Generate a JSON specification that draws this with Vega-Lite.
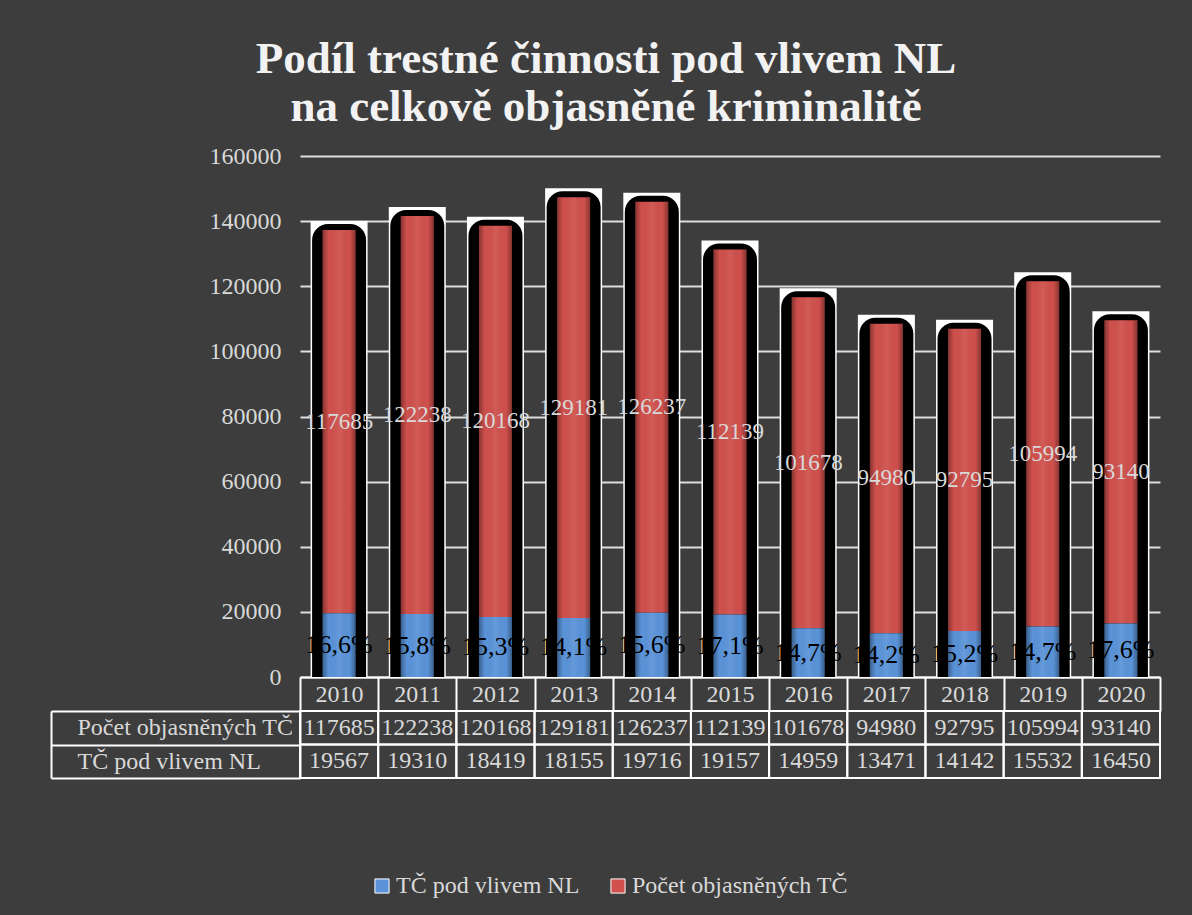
{
  "$schema": "https://vega.github.io/schema/vega-lite/v6.json",
  "autosize": {"type": "none"},
  "padding": {"left": 300, "top": 156, "right": 32, "bottom": 137},
  "background": "#3d3d3d",
  "width": 860,
  "height": 622,
  "title": {
    "text": ["Podíl trestné činnosti pod vlivem NL", "na celkově objasněné kriminalitě"],
    "font": "Liberation Serif",
    "fontSize": 45,
    "fontWeight": "bold",
    "color": "#f2f2f2",
    "lineHeight": 48,
    "anchor": "middle",
    "frame": "group",
    "dx": -124,
    "offset": 14
  },
  "data": {
    "values": [
      {"year": "2010", "series": "Počet objasněných TČ", "value": 117685, "label": "117685"},
      {"year": "2011", "series": "Počet objasněných TČ", "value": 122238, "label": "122238"},
      {"year": "2012", "series": "Počet objasněných TČ", "value": 120168, "label": "120168"},
      {"year": "2013", "series": "Počet objasněných TČ", "value": 129181, "label": "129181"},
      {"year": "2014", "series": "Počet objasněných TČ", "value": 126237, "label": "126237"},
      {"year": "2015", "series": "Počet objasněných TČ", "value": 112139, "label": "112139"},
      {"year": "2016", "series": "Počet objasněných TČ", "value": 101678, "label": "101678"},
      {"year": "2017", "series": "Počet objasněných TČ", "value": 94980, "label": "94980"},
      {"year": "2018", "series": "Počet objasněných TČ", "value": 92795, "label": "92795"},
      {"year": "2019", "series": "Počet objasněných TČ", "value": 105994, "label": "105994"},
      {"year": "2020", "series": "Počet objasněných TČ", "value": 93140, "label": "93140"},
      {"year": "2010", "series": "TČ pod vlivem NL", "value": 19567, "label": "16,6%"},
      {"year": "2011", "series": "TČ pod vlivem NL", "value": 19310, "label": "15,8%"},
      {"year": "2012", "series": "TČ pod vlivem NL", "value": 18419, "label": "15,3%"},
      {"year": "2013", "series": "TČ pod vlivem NL", "value": 18155, "label": "14,1%"},
      {"year": "2014", "series": "TČ pod vlivem NL", "value": 19716, "label": "15,6%"},
      {"year": "2015", "series": "TČ pod vlivem NL", "value": 19157, "label": "17,1%"},
      {"year": "2016", "series": "TČ pod vlivem NL", "value": 14959, "label": "14,7%"},
      {"year": "2017", "series": "TČ pod vlivem NL", "value": 13471, "label": "14,2%"},
      {"year": "2018", "series": "TČ pod vlivem NL", "value": 14142, "label": "15,2%"},
      {"year": "2019", "series": "TČ pod vlivem NL", "value": 15532, "label": "14,7%"},
      {"year": "2020", "series": "TČ pod vlivem NL", "value": 16450, "label": "17,6%"}
    ]
  },
  "encoding": {
    "x": {
      "field": "year", "type": "ordinal",
      "scale": {"paddingInner": 0, "paddingOuter": 0},
      "axis": {
        "title": null, "labelAngle": 0, "offset": -101, "domainColor": "#ffffff", "domainWidth": 2,
        "tickColor": "#ffffff", "tickWidth": 2, "tickSize": 34, "tickBand": "extent",
        "labelBaseline": "middle", "labelPadding": -17, "labelFontSize": 24,
        "labelFont": "Liberation Serif", "labelColor": "#d9d9d9"
      }
    }
  },
  "layer": [
    {
      "layer": [
        {
          "mark": {"type": "bar", "size": 57, "color": "#ffffff", "yOffset": -9},
          "encoding": {
            "y": {
              "aggregate": "sum", "field": "value", "type": "quantitative",
              "scale": {"domain": [0, 160000], "range": [521, 0]},
              "axis": {
                "title": null, "values": [0, 20000, 40000, 60000, 80000, 100000, 120000, 140000, 160000],
                "format": "d", "grid": true, "gridColor": "#dedede", "gridWidth": 2,
                "domain": false, "ticks": false, "labelColor": "#d9d9d9", "labelFontSize": 24,
                "labelFont": "Liberation Serif", "labelPadding": 19
              }
            }
          }
        },
        {
          "mark": {"type": "bar", "size": 54, "color": "#000000", "yOffset": -6, "cornerRadiusEnd": 16},
          "encoding": {
            "y": {"aggregate": "sum", "field": "value", "type": "quantitative"}
          }
        },
        {
          "mark": {"type": "bar", "size": 33},
          "encoding": {
            "y": {"field": "value", "type": "quantitative", "stack": "zero"},
            "color": {
              "field": "series", "type": "nominal",
              "scale": {"domain": ["TČ pod vlivem NL", "Počet objasněných TČ"], "range": ["#5a93d8", "#cf504c"]},
              "legend": {
                "title": null, "orient": "none", "direction": "horizontal",
                "legendX": 70, "legendY": 718, "symbolType": "square", "symbolSize": 200,
                "symbolStrokeColor": "#ffffff", "symbolStrokeWidth": 1,
                "labelFont": "Liberation Serif", "labelFontSize": 24, "labelColor": "#d9d9d9",
                "labelOffset": 2, "columnPadding": 26, "labelLimit": 400
              }
            },
            "order": {"field": "series", "sort": "descending"}
          }
        },
        {
          "mark": {
            "type": "bar", "size": 33,
            "fill": {
              "gradient": "linear", "x1": 0, "x2": 1, "y1": 0, "y2": 0,
              "stops": [
                {"offset": 0, "color": "rgba(0,0,0,0.35)"},
                {"offset": 0.18, "color": "rgba(0,0,0,0)"},
                {"offset": 0.5, "color": "rgba(255,255,255,0.07)"},
                {"offset": 0.82, "color": "rgba(0,0,0,0)"},
                {"offset": 1, "color": "rgba(0,0,0,0.35)"}
              ]
            }
          },
          "encoding": {
            "y": {"aggregate": "sum", "field": "value", "type": "quantitative"}
          }
        },
        {
          "mark": {"type": "text", "baseline": "middle", "align": "center", "font": "Liberation Serif"},
          "encoding": {
            "y": {"field": "value", "type": "quantitative", "stack": "zero", "bandPosition": 0.5},
            "detail": {"field": "series"},
            "order": {"field": "series", "sort": "descending"},
            "text": {"field": "label"},
            "color": {
              "condition": {"test": "datum.series == 'TČ pod vlivem NL'", "value": "#000000"},
              "value": "#d9d9d9"
            },
            "size": {
              "condition": {"test": "datum.series == 'TČ pod vlivem NL'", "value": 26},
              "value": 23
            }
          }
        }
      ]
    },
    {
      "encoding": {
        "y": {
          "field": "series", "type": "nominal",
          "scale": {"domain": ["Počet objasněných TČ", "TČ pod vlivem NL"], "range": [555, 622], "paddingInner": 0, "paddingOuter": 0},
          "axis": {
            "title": null, "orient": "left", "labelAlign": "left", "labelPadding": -26,
            "tickSize": 249, "tickBand": "extent", "tickColor": "#ffffff", "tickWidth": 2,
            "domainColor": "#ffffff", "domainWidth": 2, "labelColor": "#d9d9d9",
            "labelFont": "Liberation Serif", "labelFontSize": 24, "labelLimit": 300
          }
        }
      },
      "layer": [
        {
          "mark": {"type": "rect", "fillOpacity": 0, "stroke": "#ffffff", "strokeWidth": 2}
        },
        {
          "mark": {"type": "text", "baseline": "middle", "align": "center", "fontSize": 24, "font": "Liberation Serif", "color": "#d9d9d9"},
          "encoding": {
            "text": {"field": "value", "type": "quantitative", "format": "d"}
          }
        }
      ]
    },
    {
      "mark": {"type": "rect", "fillOpacity": 0, "strokeOpacity": 0},
      "encoding": {
        "y": {
          "field": "series", "type": "nominal",
          "scale": {"domain": ["Počet objasněných TČ", "TČ pod vlivem NL"], "range": [555, 622], "paddingInner": 0, "paddingOuter": 0},
          "axis": {
            "title": null, "orient": "left", "offset": 249, "labels": false, "ticks": false,
            "domain": true, "domainColor": "#ffffff", "domainWidth": 2
          }
        }
      }
    }
  ],
  "resolve": {"scale": {"y": "independent"}, "axis": {"y": "independent"}},
  "config": {
    "font": "Liberation Serif",
    "view": {"stroke": null}
  }
}
